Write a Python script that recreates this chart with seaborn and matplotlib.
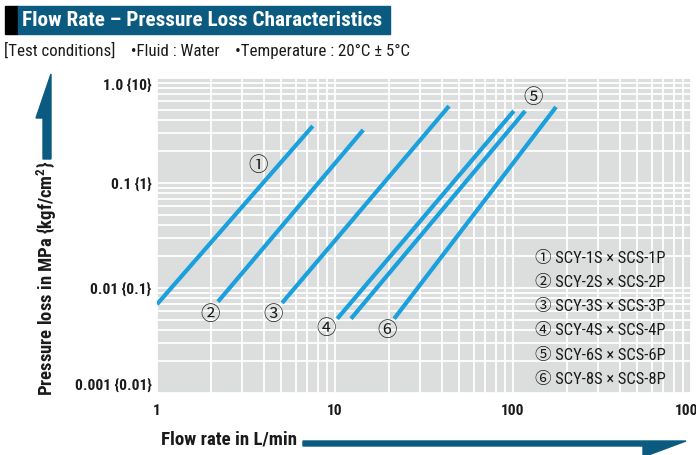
import numpy as np
import pandas as pd
import matplotlib
matplotlib.use("Agg")
import matplotlib.pyplot as plt
from matplotlib import font_manager
from matplotlib.patches import Polygon, Rectangle
from matplotlib.ticker import FixedLocator, NullFormatter, LogLocator
import seaborn as sns

# ---------------- data ----------------
series_names = ["1", "2", "3", "4", "5", "6"]
flow_start = [1.0, 2.2, 5.04, 10.3, 12.3, 21.5]
flow_end = [7.5, 14.4, 43.7, 101.0, 117.0, 174.5]
loss_start = [0.0070, 0.0074, 0.0072, 0.0051, 0.0051, 0.0051]
loss_end = [0.349, 0.32, 0.54, 0.485, 0.485, 0.53]

marks = ["①", "②", "③", "④", "⑤", "⑥"]
mark_flow = [3.69, 1.99, 4.48, 8.9, 129.5, 19.6]
mark_loss = [0.148, 0.00565, 0.00565, 0.00407, 0.645, 0.00398]

legend_labels = ["① SCY-1S × SCS-1P", "② SCY-2S × SCS-2P", "③ SCY-3S × SCS-3P",
                 "④ SCY-4S × SCS-4P", "⑤ SCY-6S × SCS-6P", "⑥ SCY-8S × SCS-8P"]

x_ticks = [1, 10, 100, 1000]
x_ticklabels = ["1", "10", "100", "1000"]
y_ticks = [0.001, 0.01, 0.1, 1.0]
y_ticklabels = ["0.001 {0.01}", "0.01 {0.1}", "0.1 {1}", "1.0 {10}"]

title = "Flow Rate – Pressure Loss Characteristics"
subtitle = "[Test conditions]    •Fluid : Water    •Temperature : 20°C ± 5°C"
xlabel = "Flow rate in L/min"
ylabel = "Pressure loss in MPa {kgf/cm$^2$}"

rows = []
for n, fs, fe, ls, le in zip(series_names, flow_start, flow_end, loss_start, loss_end):
    rows.append({"series": n, "flow": fs, "loss": ls})
    rows.append({"series": n, "flow": fe, "loss": le})
df = pd.DataFrame(rows)

# ---------------- fonts ----------------
sns.set_theme(style="white")
available = {f.name for f in font_manager.fontManager.ttflist}
primary = "Liberation Sans"
for cand in ["Liberation Sans Narrow", "DejaVu Sans Condensed", "Roboto Condensed",
             "Arial Narrow", "Liberation Sans"]:
    if cand in available:
        primary = cand
        break
FAM = [primary, "Noto Sans CJK JP", "DejaVu Sans"]
plt.rcParams["font.family"] = FAM
plt.rcParams["mathtext.fontset"] = "custom"
plt.rcParams["mathtext.rm"] = primary + ":bold"
plt.rcParams["mathtext.it"] = primary + ":bold"
plt.rcParams["mathtext.bf"] = primary + ":bold"

W, H = 696, 455
fig = plt.figure(figsize=(W / 100, H / 100), dpi=100)
fig.patch.set_facecolor("white")
renderer = fig.canvas.get_renderer()


def fx(px):
    return px / W


def fy(py):
    return 1 - py / H


def fit(t, target, dim="w"):
    for _ in range(3):
        bb = t.get_window_extent(renderer=renderer)
        cur = bb.width if dim == "w" else bb.height
        if cur > 0:
            t.set_fontsize(t.get_fontsize() * target / cur)


ax_l, ax_r, ax_t, ax_b = 157, 691, 78, 393
ax = fig.add_axes([fx(ax_l), fy(ax_b), fx(ax_r) - fx(ax_l), fy(ax_t) - fy(ax_b)])
ax.set_facecolor("#dcdddd")

line_color = "#1aa0dc"
sns.lineplot(data=df, x="flow", y="loss", hue="series", units="series",
             estimator=None, palette=[line_color] * 6, legend=False,
             linewidth=3.0, ax=ax, solid_capstyle="butt")

ax.set_xscale("log")
ax.set_yscale("log")
ax.set_xlim(1, 1000)
ax.set_ylim(0.001, 1.0)

ax.xaxis.set_major_locator(FixedLocator(x_ticks))
ax.yaxis.set_major_locator(FixedLocator(y_ticks))
ax.xaxis.set_minor_locator(LogLocator(base=10, subs=np.arange(2, 10)))
ax.yaxis.set_minor_locator(LogLocator(base=10, subs=np.arange(2, 10)))
ax.xaxis.set_minor_formatter(NullFormatter())
ax.yaxis.set_minor_formatter(NullFormatter())
ax.set_xticklabels(x_ticklabels, fontsize=11, fontweight="bold", color="#1a1a1a")
ax.set_yticklabels(y_ticklabels, fontsize=11, fontweight="bold", color="#1a1a1a")
ylab = ax.get_yticklabels()
ylab[-1].set_va("top")
ylab[0].set_va("bottom")
ax.tick_params(axis="both", which="both", length=0)
ax.tick_params(axis="x", pad=8)
ax.tick_params(axis="y", pad=4)
ax.grid(True, which="both", color="white", linewidth=1.3)
ax.set_axisbelow(True)
for s in ax.spines.values():
    s.set_visible(False)
ax.set_xlabel("")
ax.set_ylabel("")

# fit tick label size to the reference width of "0.001 {0.01}" (~77 px)
probe = fig.text(0, 0, y_ticklabels[0], fontsize=11, fontweight="bold")
fit(probe, 77)
tick_fs = probe.get_fontsize()
probe.remove()
for t in ax.get_xticklabels() + ax.get_yticklabels():
    t.set_fontsize(tick_fs)

for m, x, y in zip(marks, mark_flow, mark_loss):
    ax.text(x, y, m, fontsize=14, ha="center", va="center", color="#1a1a1a",
            family=["Noto Sans CJK JP", "DejaVu Sans"])

leg_texts = []
for i, lab in enumerate(legend_labels):
    py = 258 + i * 24.3
    t = ax.text(0.707, 1 - (py - ax_t) / (ax_b - ax_t), lab, transform=ax.transAxes,
                fontsize=10, ha="left", va="center", color="#1a1a1a", family=FAM)
    leg_texts.append(t)
fit(leg_texts[0], 132)
for t in leg_texts[1:]:
    t.set_fontsize(leg_texts[0].get_fontsize())

# ---------------- decorations ----------------
dark_blue = "#0b5a80"
fig.patches.append(Rectangle((fx(5), fy(34)), fx(13), fy(6) - fy(34),
                             transform=fig.transFigure, color="black", zorder=0))
fig.patches.append(Rectangle((fx(18), fy(34)), fx(372), fy(6) - fy(34),
                             transform=fig.transFigure, color=dark_blue, zorder=0))
tt = fig.text(fx(22), fy(20), title, color="white", fontsize=15, fontweight="bold",
              ha="left", va="center", family=FAM)
fit(tt, 362)
st = fig.text(fx(4), fy(50), subtitle, color="#1a1a1a", fontsize=11,
              ha="left", va="center", family=FAM)
fit(st, 404)

# y-axis arrow
yarrow = [(51, 74), (36, 118), (43, 118), (43, 159), (51, 159)]
fig.patches.append(Polygon([(fx(a), fy(b)) for a, b in yarrow], closed=True,
                           transform=fig.transFigure, color=dark_blue))
yl = fig.text(fx(47), fy(278), ylabel, rotation=90, fontsize=13, fontweight="bold",
              ha="center", va="center", color="#1a1a1a", family=FAM)
fit(yl, 235, dim="h")

# x-axis arrow
xarrow = [(303, 441), (686, 441), (643, 457), (643, 446), (303, 446)]
fig.patches.append(Polygon([(fx(a), fy(b)) for a, b in xarrow], closed=True,
                           transform=fig.transFigure, color=dark_blue))
xl = fig.text(fx(161), fy(440), xlabel, fontsize=13, fontweight="bold",
              ha="left", va="center", color="#1a1a1a", family=FAM)
fit(xl, 136)

fig.savefig("out.png", dpi=100)
